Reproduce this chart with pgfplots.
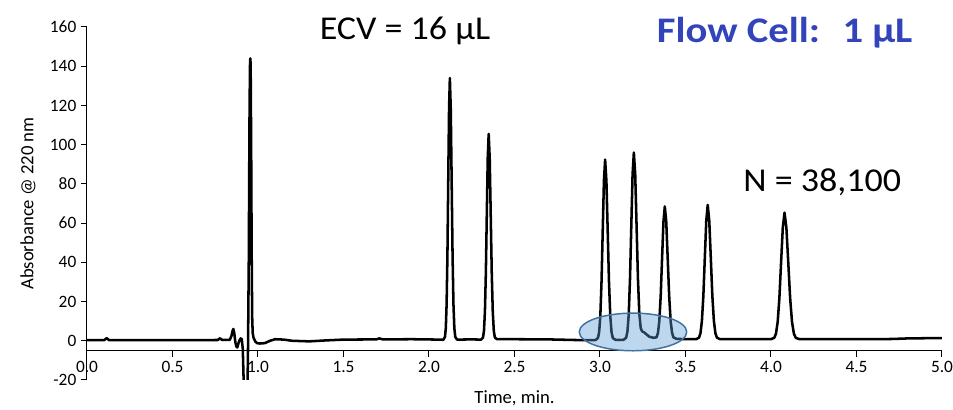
\documentclass[border=0pt]{standalone}
\usepackage{pgfplots}
\pgfplotsset{compat=1.18}
\usepackage{graphicx}
\usepackage{fontspec}
\setmainfont{Carlito}
\definecolor{flowblue}{RGB}{51,68,187}
\definecolor{ellfill}{RGB}{91,155,213}
\definecolor{elldraw}{RGB}{65,113,156}
\begin{document}
\begin{tikzpicture}
\path[use as bounding box] (-65.25pt,-22.5pt) rectangle (649.5pt,285pt);
\begin{axis}[
  at={(0,0)}, anchor=south west,
  scale only axis, width=641.25pt, height=264.75pt,
  xmin=0, xmax=5, ymin=-20, ymax=160,
  axis y line*=left, axis x line*=bottom,
  axis x line shift=-22.06pt,
  axis line style={line width=0.75pt, -},
  tick align=outside, major tick length=4.5pt,
  tick style={black, line width=0.75pt},
  xtick={0,0.5,...,5}, ytick={-20,0,20,...,160},
  minor tick num=0,
  /pgf/number format/assume math mode=true,
  x tick label style={/pgf/number format/.cd, fixed, fixed zerofill, precision=1},
  tick label style={font=\fontsize{13pt}{15pt}\selectfont},
  xlabel={Time, min.}, ylabel={Absorbance @ 220 nm},
  label style={font=\fontsize{14pt}{16pt}\selectfont},
  xlabel style={at={(axis description cs:0.5,-0.052)}, anchor=center},
  ylabel style={at={(axis description cs:-0.069,0.5)}, anchor=center},
  clip mode=individual,
]
\addplot[black, line width=1.9pt, line join=round] coordinates {
(0,0.3) (0.10,0.3) (0.115,1.3) (0.13,0.3) (0.4,0.3) (0.6,0.3) (0.765,0.4) (0.778,1.3) (0.79,0.4)
(0.835,0.5) (0.845,2.5) (0.851,5) (0.856,6) (0.861,4) (0.868,-1) (0.874,-3) (0.879,-3.4) (0.885,-1.5)
(0.892,0.3) (0.899,1.2) (0.905,0.8) (0.911,-4) (0.916,-20) (0.920,-32) (0.936,-32) (0.941,-10)
(0.946,40) (0.950,110) (0.953,140) (0.955,144) (0.957,141) (0.960,100) (0.963,45) (0.966,12)
(0.969,4) (0.974,1.5) (0.985,-0.5) (0.995,-1.2) (1.01,-1.4) (1.04,-1.2) (1.07,0) (1.10,0.8)
(1.15,0.6) (1.2,0) (1.3,-0.3) (1.4,0.2) (1.5,0.6) (1.69,0.7) (1.71,1.2) (1.73,0.7) (1.9,0.8) (2.06,0.6)
(2.084,0.5) (2.0935,2.0) (2.0983,6.4) (2.103,18.6) (2.1078,43.8) (2.1125,81.5) (2.1173,118.3) (2.122,134)
(2.1273,118.3) (2.1325,81.5) (2.1378,43.8) (2.143,18.6) (2.1483,6.4) (2.1535,2.0) (2.164,0.6)
(2.25,0.7)
(2.305,0.6) (2.316,1.7) (2.3215,5.1) (2.327,14.7) (2.3325,34.6) (2.338,64.2) (2.3435,93.2) (2.349,105.5)
(2.355,93.2) (2.361,64.2) (2.367,34.6) (2.373,14.7) (2.379,5.1) (2.385,1.7) (2.397,0.8)
(2.5,0.8) (2.7,0.7) (2.85,0.4) (2.95,0.3)
(2.974,0.4) (2.988,1.4) (2.995,4.4) (3.002,12.8) (3.009,30.3) (3.016,56.2) (3.023,81.6) (3.030,92.4)
(3.0375,81.6) (3.045,56.2) (3.0525,30.3) (3.060,12.8) (3.0675,4.4) (3.075,1.4) (3.09,0.5)
(3.115,0.4)
(3.138,0.5) (3.153,1.6) (3.1605,4.7) (3.168,13.4) (3.1755,31.5) (3.183,58.4) (3.1905,84.8) (3.198,96)
(3.206,84.8) (3.214,58.4) (3.222,31.5) (3.230,13.8) (3.238,6.5) (3.246,4.8) (3.258,4.3) (3.275,3.0) (3.29,2.0)
(3.315,1.5) (3.331,1.8) (3.339,4.0) (3.347,10.1) (3.355,22.9) (3.363,41.9) (3.371,60.6) (3.379,68.5)
(3.3875,60.6) (3.396,41.9) (3.4045,22.9) (3.413,10.1) (3.4215,4.0) (3.430,1.7) (3.447,1.0)
(3.5,0.8)
(3.562,0.8) (3.579,1.6) (3.5875,3.8) (3.596,10.1) (3.6045,23.0) (3.613,42.3) (3.6215,61.2) (3.630,69.3)
(3.639,61.2) (3.648,42.3) (3.657,23.0) (3.666,10.1) (3.675,3.8) (3.684,1.6) (3.702,0.8)
(3.85,0.8)
(3.999,0.8) (4.019,1.5) (4.029,3.6) (4.039,9.5) (4.049,21.7) (4.059,39.9) (4.069,57.7) (4.079,65.3)
(4.090,57.7) (4.101,39.9) (4.112,21.7) (4.123,9.5) (4.134,3.6) (4.145,1.5) (4.167,0.8)
(4.4,0.8) (4.7,0.9) (4.8,1.2) (4.9,1.3) (5.0,1.3)
};
\draw[draw=elldraw, line width=1.1pt, fill=ellfill, fill opacity=0.4] (axis cs:3.193,4.5) ellipse [x radius=0.314, y radius=9.6];
\node[font=\fontsize{25pt}{30pt}\selectfont] at (axis cs:1.86,158) {\scalebox{1.08}[1]{ECV = 16 µL}};
\node[font=\fontsize{27pt}{30pt}\selectfont\bfseries, text=flowblue] at (axis cs:4.08,157) {\scalebox{1.13}[1]{Flow Cell:\hspace{0.55em}1 µL}};
\node[font=\fontsize{25pt}{30pt}\selectfont] at (axis cs:4.30,80.8) {\scalebox{1.08}[1]{N = 38,100}};
\end{axis}
\end{tikzpicture}
\end{document}
